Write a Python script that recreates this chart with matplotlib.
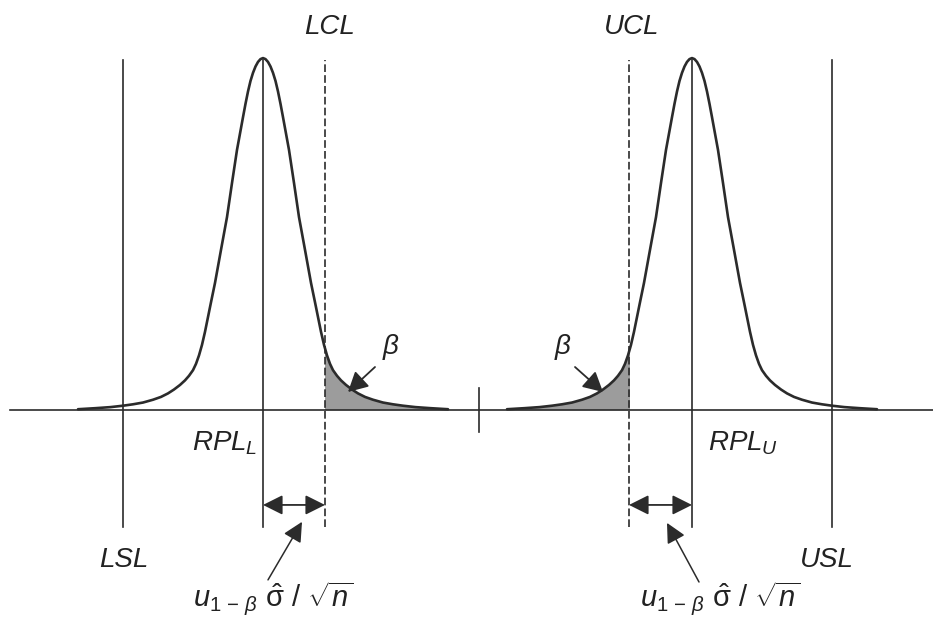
import matplotlib.pyplot as plt
import numpy as np
from matplotlib.patches import Rectangle

plt.rcParams["font.family"] = ["Liberation Sans", "DejaVu Sans"]
plt.rcParams["mathtext.fontset"] = "custom"
plt.rcParams["mathtext.rm"] = "Liberation Sans"
plt.rcParams["mathtext.it"] = "Liberation Sans:italic"
plt.rcParams["mathtext.sf"] = "Liberation Sans"

# ---------------------------------------------------------------------------
# Data
# ---------------------------------------------------------------------------

# half profile of the sample-mean density: offset from its centre, relative height
profile_dx = [0.0, 0.05, 0.10, 0.15, 0.20, 0.25, 0.30, 0.35, 0.40, 0.52,
              0.62, 0.72, 0.84, 0.96, 1.04, 1.10, 1.16, 1.22, 1.28, 1.34,
              1.40, 1.48, 1.56, 1.66, 1.78, 1.90, 2.04, 2.20, 2.40, 2.60,
              2.80, 3.05, 3.35, 3.70]
profile_h = [1.000, 0.997, 0.989, 0.976, 0.958, 0.935, 0.905, 0.870, 0.832,
             0.739, 0.645, 0.548, 0.455, 0.361, 0.306, 0.264, 0.222, 0.185,
             0.155, 0.131, 0.113, 0.097, 0.084, 0.071, 0.058, 0.047, 0.037,
             0.029, 0.021, 0.016, 0.012, 0.008, 0.005, 0.002]

# positions along the measurement axis (target at 0)
LSL, USL = -7.12, 7.06
RPL_L, RPL_U = -4.32, 4.26
LCL, UCL = -3.08, 3.00
TARGET = 0.0

LINE = "#2b2b2b"
SHADE = "#9c9c9c"
FS = 20

# ---------------------------------------------------------------------------
# Figure
# ---------------------------------------------------------------------------

fig = plt.figure(figsize=(9.33, 6.2), dpi=100)
ax = fig.add_axes([0, 0, 1, 1])
ax.set_xlim(-9.58, 9.08)
ax.set_ylim(-0.597, 1.165)
ax.axis("off")

# full symmetric profile
dx = np.array(profile_dx)
h = np.array(profile_h)
full_dx = np.concatenate([-dx[::-1], dx[1:]])
full_h = np.concatenate([h[::-1], h[1:]])

# baseline and target tick
ax.plot([-9.38, 9.08], [0, 0], color=LINE, lw=1.2, zorder=2)
ax.plot([TARGET, TARGET], [-0.0625, 0.0625], color=LINE, lw=1.2, zorder=2)

# shaded beta tails between the control limit and the target
for centre, lo, hi in [(RPL_L, LCL, TARGET), (RPL_U, TARGET, UCL)]:
    poly = ax.fill_between(centre + full_dx, full_h, 0, color=SHADE, lw=0, zorder=1)
    clip = Rectangle((lo, -0.05), hi - lo, 1.2, transform=ax.transData)
    poly.set_clip_path(clip)

# density curves
for centre in (RPL_L, RPL_U):
    ax.plot(centre + full_dx, full_h, color=LINE, lw=1.9, zorder=3,
            solid_capstyle="round", solid_joinstyle="round")

# vertical limit lines
top, bottom = 0.994, -0.332
for xv in (LSL, RPL_L, RPL_U, USL):
    ax.plot([xv, xv], [bottom, top], color=LINE, lw=1.2, zorder=2)
for xv in (LCL, UCL):
    ax.plot([xv, xv], [bottom, top], color=LINE, lw=1.2, zorder=2,
            linestyle=(0, (4.6, 1.9)))

# width between RPL and control limit
for a, b in [(RPL_L, LCL), (UCL, RPL_U)]:
    ax.annotate("", xy=(b, -0.27), xytext=(a, -0.27),
                arrowprops=dict(arrowstyle="<|-|>,head_length=0.6,head_width=0.3",
                                mutation_scale=20, color=LINE, lw=1.3,
                                shrinkA=0, shrinkB=0))

# pointers to the formula
ax.annotate("", xy=(-3.54, -0.318), xytext=(-4.22, -0.483),
            arrowprops=dict(arrowstyle="-|>,head_length=0.6,head_width=0.3",
                            mutation_scale=20, color=LINE, lw=1.1,
                            shrinkA=0, shrinkB=0))
ax.annotate("", xy=(3.76, -0.321), xytext=(4.40, -0.489),
            arrowprops=dict(arrowstyle="-|>,head_length=0.6,head_width=0.3",
                            mutation_scale=20, color=LINE, lw=1.1,
                            shrinkA=0, shrinkB=0))

# pointers to the beta areas
ax.annotate("", xy=(-2.62, 0.051), xytext=(-2.08, 0.122),
            arrowprops=dict(arrowstyle="-|>,head_length=0.6,head_width=0.32",
                            mutation_scale=20, color=LINE, lw=1.3,
                            shrinkA=0, shrinkB=0))
ax.annotate("", xy=(2.48, 0.051), xytext=(1.92, 0.122),
            arrowprops=dict(arrowstyle="-|>,head_length=0.6,head_width=0.32",
                            mutation_scale=20, color=LINE, lw=1.3,
                            shrinkA=0, shrinkB=0))

# labels
txt = dict(fontsize=FS, color="#222222")
ax.text(-2.98, 1.088, "LCL", ha="center", va="center", style="italic", **txt)
ax.text(3.06, 1.088, "UCL", ha="center", va="center", style="italic", **txt)
ax.text(-1.76, 0.18, r"$\beta$", ha="center", va="center", **txt)
ax.text(1.68, 0.18, r"$\beta$", ha="center", va="center", **txt)
ax.text(-4.44, -0.114, r"$RPL_L$", ha="right", va="baseline", **txt)
ax.text(4.58, -0.114, r"$RPL_U$", ha="left", va="baseline", **txt)
ax.text(-6.62, -0.446, "LSL", ha="right", va="baseline", style="italic", **txt)
ax.text(6.42, -0.446, "USL", ha="left", va="baseline", style="italic", **txt)

formula = r"$u_{1\,-\,\beta}\ \hat{\mathrm{\sigma}}\ /\ \sqrt{n}$"
ax.text(-5.72, -0.56, formula, ha="left", va="baseline", fontsize=21,
        color="#222222")
ax.text(3.22, -0.56, formula, ha="left", va="baseline", fontsize=21,
        color="#222222")

fig.savefig("out.png", dpi=100, facecolor="white")
